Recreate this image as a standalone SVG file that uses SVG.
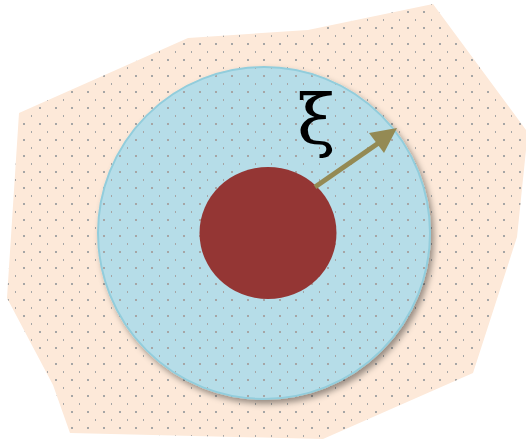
<svg xmlns="http://www.w3.org/2000/svg" width="526" height="442" viewBox="0 0 526 442">
<style>
.region{fill:#fde9d9;}
.dots{fill:url(#dots);}
.outer{fill:#b6dde8;stroke:#92cddc;stroke-width:2;}
.core{fill:#943634;}
.vec{stroke:#948a54;stroke-width:5;fill:none;}
.head{fill:#948a54;}
.lbl{font-family:"DejaVu Serif","Liberation Serif",serif;font-size:70px;fill:#000;}
</style>
<defs>
<pattern id="dots" patternUnits="userSpaceOnUse" x="0" y="0" width="16" height="16">
<rect x="7" y="11" width="2" height="2" fill="#a6a6a6"/>
<rect x="15" y="3" width="2" height="2" fill="#a6a6a6"/>
</pattern>
<filter id="shadow" x="-20%" y="-20%" width="140%" height="140%">
<feDropShadow dx="3" dy="4" stdDeviation="3" flood-color="#000" flood-opacity="0.4"/>
</filter>
</defs>
<g id="region">
<polygon class="region" points="19,113 188,38 308,30 433,4 526,130 526,150 517,237 473,373 323,439 70,433 53,385 7,298"/>
<polygon class="dots" points="19,113 188,38 308,30 433,4 526,130 526,150 517,237 473,373 323,439 70,433 53,385 7,298"/>
</g>
<g id="outer">
<circle class="outer" cx="264" cy="233" r="166" filter="url(#shadow)"/>
<circle class="dots" cx="264" cy="233" r="165"/>
</g>
<g id="core">
<ellipse class="core" cx="268" cy="233" rx="68.5" ry="66"/>
</g>
<g id="connectors">
<line class="vec" x1="315" y1="187" x2="380" y2="142"/>
<polygon class="head" points="397,128 369,133 384,153"/>
</g>
<g id="label">
<text class="lbl" x="297" y="144">ξ</text>
</g>
</svg>
